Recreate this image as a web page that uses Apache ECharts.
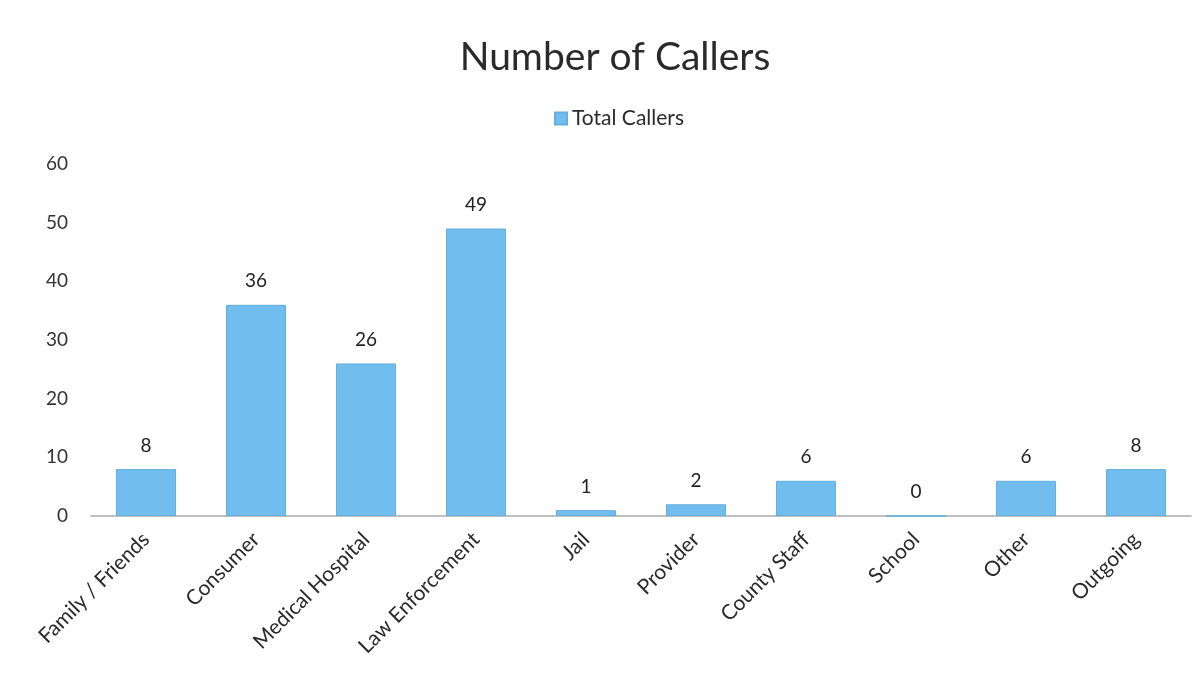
<!DOCTYPE html>
<html><head><meta charset="utf-8">
<script src="https://cdn.jsdelivr.net/npm/echarts@6/dist/echarts.min.js"></script>
<style>html,body{margin:0;padding:0;background:#fff}#c{width:1201px;height:685px}</style>
</head><body><div id="c"></div>
<script>
const categories = ['Family / Friends','Consumer','Medical Hospital','Law Enforcement','Jail','Provider','County Staff','School','Other','Outgoing'];
const totalCallers = [8,36,26,49,1,2,6,0,6,8];
const yTicks = [0,10,20,30,40,50,60];
const chart = echarts.init(document.getElementById('c'));
const font = 'Lato, "Open Sans", sans-serif';
chart.setOption({
  animation:false,
  title:{text:'Number of Callers',left:610,textAlign:'center',top:33,textStyle:{fontFamily:font,fontSize:39,fontWeight:'normal',color:'#2a2a2a'}},
  legend:{data:['Total Callers'],left:549,top:103,itemWidth:12,itemHeight:12,itemGap:5,icon:'rect',textStyle:{fontFamily:font,fontSize:21,color:'#2a2a2a'}},
  grid:{left:91,right:10,top:164,bottom:169},
  xAxis:{type:'category',data:categories,axisLine:{lineStyle:{color:'#aaa',width:1.5}},axisTick:{show:false},
    axisLabel:{rotate:45,interval:0,fontFamily:font,fontSize:21,color:'#2a2a2a',margin:20}},
  yAxis:{type:'value',min:0,max:60,interval:10,splitLine:{show:false},axisLine:{show:false},axisTick:{show:false},
    axisLabel:{fontFamily:font,fontSize:19,color:'#333',margin:23,formatter:v=>yTicks.includes(v)?String(v):''}},
  series:[{name:'Total Callers',type:'bar',data:totalCallers,barWidth:60,
    itemStyle:{color:'#70bdee',borderColor:'#66aedd',borderWidth:1},
    label:{show:true,position:'top',distance:14,fontFamily:font,fontSize:19,color:'#222'}}]
});
</script></body></html>
